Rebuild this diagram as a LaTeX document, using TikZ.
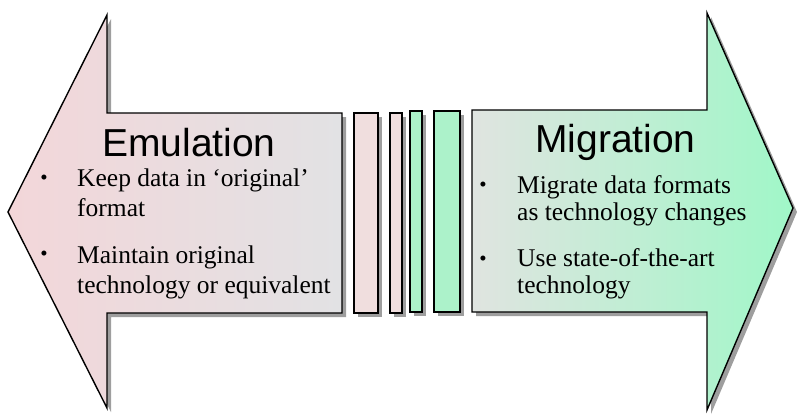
\documentclass[tikz,border=0pt]{standalone}
\usepackage{fontspec}
\setmainfont{Liberation Serif}
\setsansfont{Liberation Sans}
\usepackage{xcolor}

\definecolor{emupink}{RGB}{243,214,217}
\definecolor{emugray}{RGB}{226,226,228}
\definecolor{miggray}{RGB}{224,228,224}
\definecolor{miggreen}{RGB}{160,247,200}
\definecolor{barpink}{RGB}{240,222,222}
\definecolor{bargreen}{RGB}{172,242,202}

\begin{document}
\begin{tikzpicture}[x=1pt,y=-1pt,
    arrowbody/.style={draw=black,line width=1.4pt,line join=miter},
    dropshadow/.style={fill=black!38,draw=none},
    barbox/.style={draw=black,line width=1.6pt},
    title/.style={font=\sffamily\fontsize{39}{44}\selectfont,anchor=base west,inner sep=0pt},
    point/.style={font=\fontsize{25.5}{30}\selectfont,anchor=base west,inner sep=0pt,align=left},
    dot/.style={font=\fontsize{21}{21}\selectfont,inner sep=0pt}]

    \useasboundingbox (0,0) rectangle (797,416);

    % shadows
    \fill[dropshadow] (12,216) -- (111,19) -- (111,117) -- (346,117) -- (346,317) -- (111,317) -- (111,412) -- cycle;
    \fill[dropshadow] (358,117) rectangle (382,317);
    \fill[dropshadow] (394,117) rectangle (406,317);
    \fill[dropshadow] (414,115) rectangle (426,316);
    \fill[dropshadow] (438,115) rectangle (464,316);
    \fill[dropshadow] (476,114) -- (711,114) -- (711,17) -- (797,212) -- (711,414) -- (711,316) -- (476,316) -- cycle;

    % emulation arrow
    \path[arrowbody,left color=emupink,right color=emugray]
        (8,212) -- (107,15) -- (107,113) -- (342,113) -- (342,313) -- (107,313) -- (107,408) -- cycle;

    % bars
    \draw[barbox,fill=barpink] (354,113) rectangle (378,313);
    \draw[barbox,fill=barpink] (390,113) rectangle (402,313);
    \draw[barbox,fill=bargreen] (410,111) rectangle (422,312);
    \draw[barbox,fill=bargreen] (434,111) rectangle (460,312);

    % migration arrow
    \path[arrowbody,left color=miggray,right color=miggreen]
        (472,110) -- (707,110) -- (707,13) -- (793,208) -- (707,410) -- (707,312) -- (472,312) -- cycle;

    % texts (base = last line)
    \node[title] (emu) at (102,156) {Emulation};
    \node[point] (emuA) at (77,216) {Keep data in ‘original’\\format};
    \node[point] (emuB) at (77,293) {Maintain original\\technology or equivalent};
    \node[dot] (emuAdot) at (44,180) {•};
    \node[dot] (emuBdot) at (44,256) {•};

    \node[title] (mig) at (535,152) {Migration};
    \node[point,font=\fontsize{25.5}{27}\selectfont] (migA) at (517,220) {Migrate data formats\\as technology changes};
    \node[point,font=\fontsize{25.5}{27}\selectfont] (migB) at (517,293) {Use state-of-the-art\\technology};
    \node[dot] (migAdot) at (483,187) {•};
    \node[dot] (migBdot) at (483,261) {•};

\end{tikzpicture}
\end{document}
